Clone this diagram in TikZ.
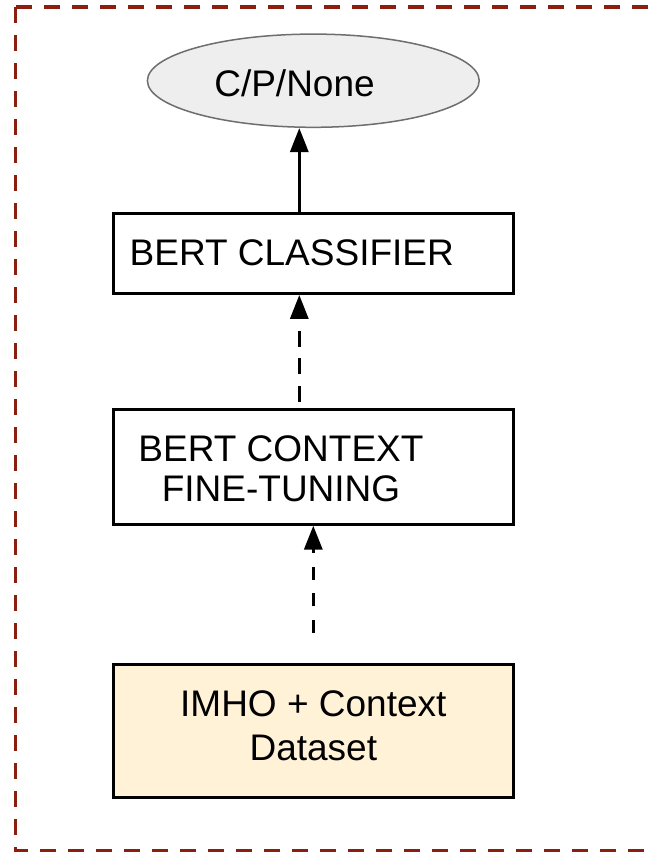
\documentclass[tikz,border=0pt]{standalone}
\usepackage{fontspec}
\setmainfont{Liberation Sans}
\usetikzlibrary{arrows.meta,shapes.geometric}
\definecolor{maroon}{RGB}{140,30,16}
\definecolor{ellfill}{RGB}{238,238,238}
\definecolor{elldraw}{RGB}{110,110,110}
\definecolor{cream}{RGB}{255,242,215}
\tikzset{
  box/.style={draw=black, line width=3pt, rectangle, inner sep=0pt, minimum width=400.3pt},
  lbl/.style={inner sep=0pt, anchor=base, font=\fontsize{37}{41}\selectfont},
  frame/.style={draw=maroon, line width=3.5pt, dash pattern=on 16pt off 12pt},
  tipA/.style={-{Triangle[length=24pt,width=18pt]}, line width=3.2pt}
}
\begin{document}
\begin{tikzpicture}[x=1pt,y=-1pt]
\useasboundingbox (0,0) rectangle (652,852);
\fill[white] (0,0) rectangle (652,852);
\begin{scope}
\clip (0,0) rectangle (652,852);
\coordinate (fa) at (15.7,7);
\coordinate (fb) at (15.7,850.7);
\coordinate (fc) at (720,850.7);
\coordinate (fd) at (720,7);
\draw[frame] (fa) -- (fd);
\draw[frame] (fa) -- (fb) -- (fc);
\end{scope}

% ellipse
\node[ellipse, draw=elldraw, fill=ellfill, line width=1.5pt, inner sep=0pt,
      minimum width=331.8pt, minimum height=93.2pt] (ell) at (313.3,80.7) {};
\node[lbl] (ellt) at (294.5,96) {C/P/None};

% classifier
\node[box, minimum height=80.3pt] (cls) at (313.3,253.3) {};
\node[lbl, anchor=base west] (clst) at (129.5,265) {BERT CLASSIFIER};

% context fine-tuning
\node[box, minimum height=114.7pt] (ctx) at (313.3,466.8) {};
\node[lbl] (ctxa) at (281,461.7) {BERT CONTEXT};
\node[lbl] (ctxb) at (281,501.7) {FINE-TUNING};

% dataset
\node[box, fill=cream, minimum height=133.3pt] (dst) at (313.3,730.8) {};
\node[lbl] (dsa) at (313.3,716.7) {IMHO + Context};
\node[lbl] (dsb) at (313.3,760.7) {Dataset};

% connectors
\coordinate (ax) at (299.3,0);
\coordinate (bx) at (313.3,0);
\coordinate (s3) at (313.3,633);
\draw[tipA] (cls.north -| ax) -- (ell.south -| ax);
\draw[tipA, dash pattern=on 16pt off 11.5pt, shorten <=6pt] (ctx.north -| ax) -- (cls.south -| ax);
\draw[tipA, dash pattern=on 13.3pt off 13.3pt] (s3) -- (ctx.south -| bx);
\end{tikzpicture}
\end{document}
